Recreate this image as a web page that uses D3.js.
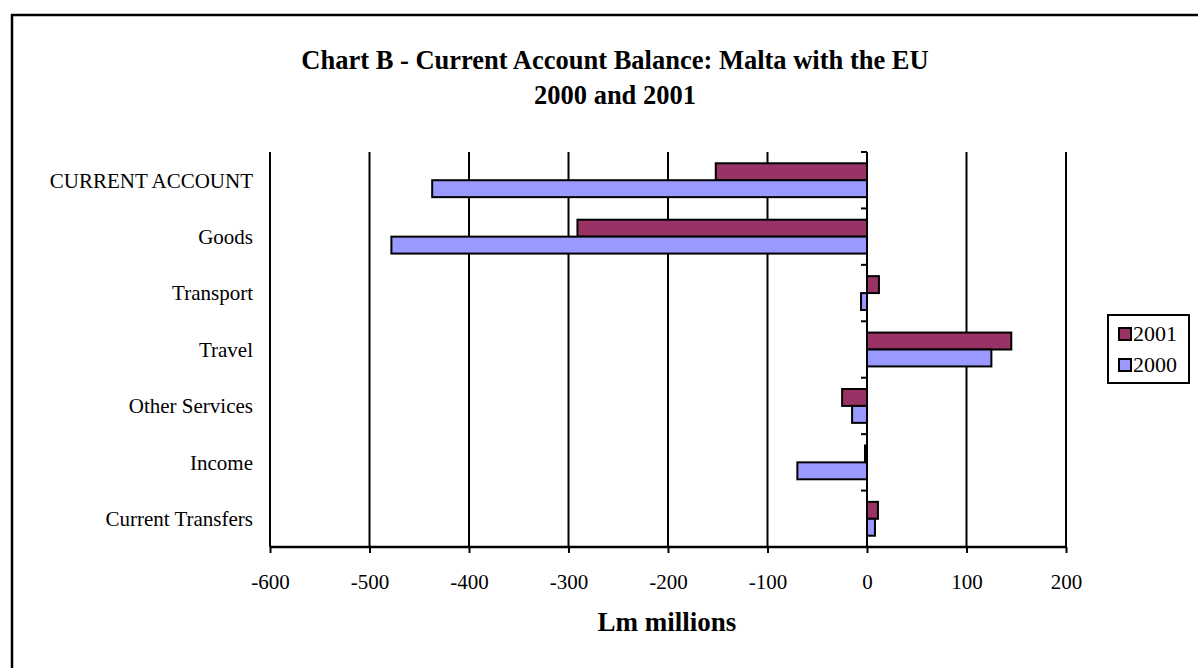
<!DOCTYPE html>
<html>
<head>
<meta charset="utf-8">
<script src="https://cdn.jsdelivr.net/npm/d3@7"></script>
<style>
  html, body { margin: 0; padding: 0; background: #fff; }
  svg { display: block; }
  text { font-family: "Liberation Serif", "Times New Roman", serif; fill: #000; }
</style>
</head>
<body>
<script>
// ---- data ----
const categories = ["CURRENT ACCOUNT", "Goods", "Transport", "Travel", "Other Services", "Income", "Current Transfers"];
const seriesNames = ["2001", "2000"];
const values2001 = [-152, -291, 12, 145, -25, -2, 11];
const values2000 = [-437, -478, -6, 125, -15, -70, 8];
const xTicks = [-600, -500, -400, -300, -200, -100, 0, 100, 200];
const titleLines = ["Chart B - Current Account Balance: Malta with the EU", "2000 and 2001"];
const xTitle = "Lm millions";
const colors = { "2001": "#993366", "2000": "#9999FF" };

const W = 1198, H = 668;
const svg = d3.select("body").append("svg").attr("width", W).attr("height", H);

// outer frame (top and left visible, right/bottom off-canvas)
svg.append("rect").attr("x", 12).attr("y", 15).attr("width", W + 10).attr("height", H + 10)
  .attr("fill", "none").attr("stroke", "#000").attr("stroke-width", 2.5);

const x = d3.scaleLinear().domain([-600, 200]).range([270, 1066]);
const y = d3.scaleBand().domain(categories).range([152, 547]).paddingInner(0.4).paddingOuter(0.2);
const ySub = d3.scaleBand().domain(seriesNames).range([0, y.bandwidth()]);

// title
svg.append("g").selectAll("text").data(titleLines).join("text")
  .attr("x", 615).attr("y", (d, i) => 69 + i * 35)
  .attr("text-anchor", "middle").attr("font-weight", "bold").attr("font-size", 26.5)
  .text(d => d);

// gridlines
svg.append("g").selectAll("line").data(xTicks).join("line")
  .attr("x1", d => x(d)).attr("x2", d => x(d))
  .attr("y1", 152).attr("y2", 547)
  .attr("stroke", "#000").attr("stroke-width", 2);

// bars
const rows = categories.map((c, i) => ({ cat: c, vals: [ { s: "2001", v: values2001[i] }, { s: "2000", v: values2000[i] } ] }));
const g = svg.append("g").selectAll("g").data(rows).join("g")
  .attr("transform", d => `translate(0,${y(d.cat)})`);
g.selectAll("rect").data(d => d.vals).join("rect")
  .attr("x", d => x(Math.min(0, d.v)))
  .attr("width", d => Math.abs(x(d.v) - x(0)))
  .attr("y", d => ySub(d.s))
  .attr("height", ySub.bandwidth())
  .attr("fill", d => colors[d.s])
  .attr("stroke", "#000").attr("stroke-width", 2);

// category axis at zero
const yAxisG = svg.append("g").attr("transform", `translate(${x(0)},0)`);
yAxisG.append("line").attr("x1", 0).attr("x2", 0).attr("y1", 152).attr("y2", 547)
  .attr("stroke", "#000").attr("stroke-width", 2);
const boundaries = categories.map(c => y(c) - y.step() * y.paddingInner() / 2);
yAxisG.selectAll("line.tk").data(boundaries).join("line").attr("class", "tk")
  .attr("x1", -6).attr("x2", 0).attr("y1", d => d).attr("y2", d => d)
  .attr("stroke", "#000").attr("stroke-width", 2);

// category labels
svg.append("g").selectAll("text").data(categories).join("text")
  .attr("x", 253).attr("y", d => y(d) + y.bandwidth() / 2)
  .attr("dy", "0.35em").attr("text-anchor", "end").attr("font-size", 21)
  .text(d => d);

// x axis
const xAxis = d3.axisBottom(x).tickValues(xTicks).tickSize(6).tickPadding(21).tickFormat(d => String(d));
const xg = svg.append("g").attr("transform", "translate(0,547)").call(xAxis);
xg.select(".domain").attr("stroke", "#000").attr("stroke-width", 2.5).attr("d", "M270,0H1066");
xg.selectAll(".tick line").attr("stroke", "#000").attr("stroke-width", 2);
xg.selectAll(".tick text").attr("font-size", 21).attr("font-family", "Liberation Serif, Times New Roman, serif").attr("fill", "#000");

svg.append("text").attr("x", 667).attr("y", 631).attr("text-anchor", "middle")
  .attr("font-weight", "bold").attr("font-size", 27).text(xTitle);

// legend
const lg = svg.append("g");
lg.append("rect").attr("x", 1108).attr("y", 315).attr("width", 81).attr("height", 68)
  .attr("fill", "#fff").attr("stroke", "#000").attr("stroke-width", 2);
const li = lg.selectAll("g").data(seriesNames).join("g")
  .attr("transform", (d, i) => `translate(1119,${328 + i * 31})`);
li.append("rect").attr("width", 12).attr("height", 12)
  .attr("fill", d => colors[d]).attr("stroke", "#000").attr("stroke-width", 2);
li.append("text").attr("x", 14).attr("y", 13).attr("font-size", 22).text(d => d);
</script>
</body>
</html>
